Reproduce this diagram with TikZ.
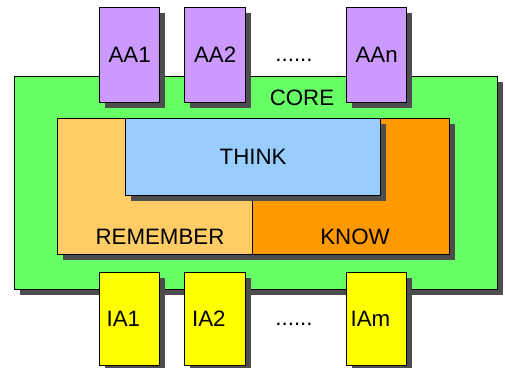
\documentclass[tikz,border=0pt]{standalone}
\usepackage{fontspec}
\setmainfont{Liberation Sans}
\usetikzlibrary{shadows}
\definecolor{cgreen}{HTML}{66FF66}
\definecolor{cpurple}{HTML}{CC99FF}
\definecolor{cyellow}{HTML}{FFFF00}
\definecolor{clorange}{HTML}{FFCC66}
\definecolor{corange}{HTML}{FF9900}
\definecolor{cblue}{HTML}{99CCFF}
\definecolor{cshade}{HTML}{4D4D4D}
\tikzset{
  box/.style={draw=black, line width=1.2pt, rectangle, inner sep=0pt, anchor=north west,
    general shadow={fill=cshade, shadow xshift=5.5pt, shadow yshift=-5pt}},
  txt/.style={font=\fontsize{22.3}{25}\selectfont, text=black},
}
\begin{document}
\begin{tikzpicture}[x=1pt,y=-1pt, every node/.style={txt}]
\useasboundingbox (0,0) rectangle (505,367);
\node[box, fill=cgreen, minimum width=483pt, minimum height=213pt] (core) at (14,76) {};
\node[box, fill=clorange, minimum width=195pt, minimum height=136pt] (remember) at (57,118) {};
\node[box, fill=corange, minimum width=197pt, minimum height=136pt] (know) at (252,118) {};
\node[box, fill=cblue, minimum width=255pt, minimum height=77pt] (think) at (125,118) {THINK};
\node[anchor=base] (corelbl) at (302,105) {CORE};
\node[anchor=base] (remlbl) at (160,244) {REMEMBER};
\node[anchor=base] (knowlbl) at (355,244) {KNOW};
\node[box, fill=cpurple, minimum width=60pt, minimum height=95pt] (aa1) at (99,7) {AA1};
\node[box, fill=cpurple, minimum width=61pt, minimum height=95pt] (aa2) at (184,7) {AA2};
\node[box, fill=cpurple, minimum width=60pt, minimum height=95pt] (aan) at (346,7) {AAn};
\node[anchor=base] (dotsa) at (294,61) {......};
\node[box, fill=cyellow, minimum width=60pt, minimum height=93pt, text width=46pt, align=left] (ia1) at (99,272) {IA1};
\node[box, fill=cyellow, minimum width=61pt, minimum height=93pt, text width=46pt, align=left] (ia2) at (184,272) {IA2};
\node[box, fill=cyellow, minimum width=60pt, minimum height=93pt, text width=52pt, align=left] (iam) at (346,272) {IAm};
\node[anchor=base] (dotsb) at (294,325) {......};
\end{tikzpicture}
\end{document}
